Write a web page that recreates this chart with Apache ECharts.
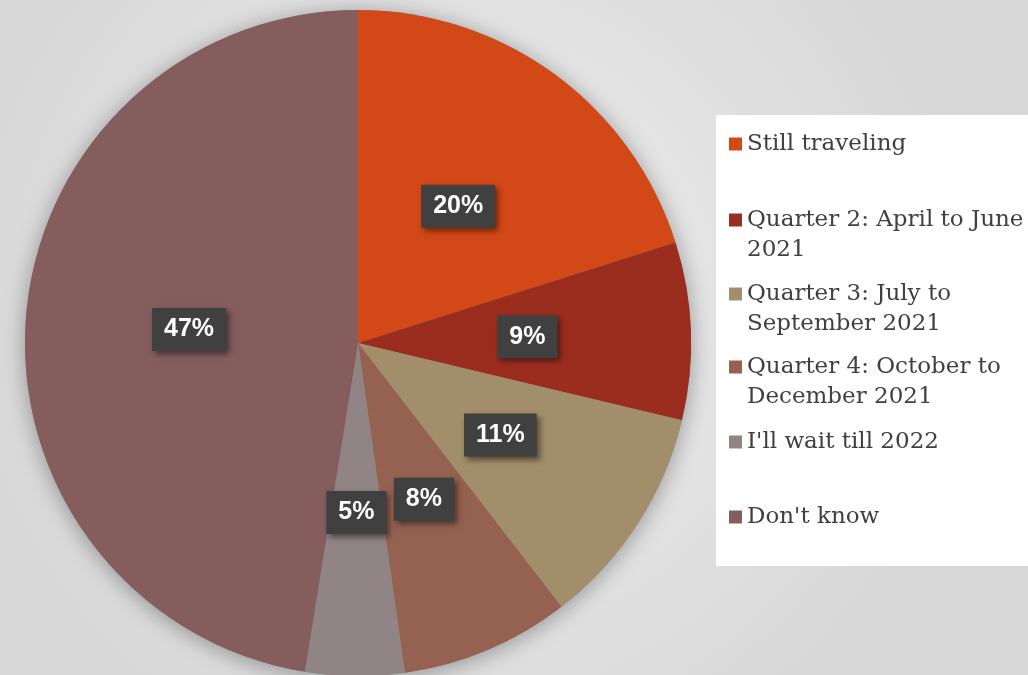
<!DOCTYPE html>
<html>
<head>
<meta charset="utf-8">
<script src="https://cdn.jsdelivr.net/npm/echarts@6/dist/echarts.min.js"></script>
<style>
  html, body { margin: 0; padding: 0; }
  #main { width: 1028px; height: 675px; }
</style>
</head>
<body>
<div id="main"></div>
<script>
const categories = [
  'Still traveling',
  'Quarter 2: April to June\n2021',
  'Quarter 3: July to\nSeptember 2021',
  'Quarter 4: October to\nDecember 2021',
  "I'll wait till 2022",
  "Don't know"
]
// shares (labels show them rounded)
const values = [20.1, 8.6, 10.8, 8.2, 4.8, 47.4]
const colors = ['#d34817', '#9b2d1f', '#a28e6a', '#956251', '#918485', '#855d5d']
// y of each legend entry's first line
const legendRows = [142, 218, 292, 365, 440, 515]

const chart = echarts.init(document.getElementById('main'))

const legends = categories.map((name, i) => {
  const twoLines = name.indexOf('\n') > -1
  return {
    orient: 'vertical',
    left: 724,
    top: legendRows[i] - (twoLines ? 48 : 18),
    itemWidth: 13,
    itemHeight: 13,
    itemGap: 0,
    icon: 'rect',
    selectedMode: false,
    data: [name],
    // empty first line keeps the square next to the first text line
    formatter: n => (n.indexOf('\n') > -1 ? '\n' + n : n),
    textStyle: {
      fontFamily: 'DejaVu Serif',
      fontSize: 23,
      color: '#404040',
      lineHeight: 30
    }
  }
})

const option = {
  backgroundColor: {
    type: 'radial', x: 0.45, y: 0.45, r: 0.75,
    colorStops: [
      { offset: 0, color: '#efefef' },
      { offset: 1, color: '#d8d8d8' }
    ]
  },
  color: colors,
  graphic: [
    {
      type: 'rect',
      z: 0,
      shape: { x: 716, y: 115, width: 320, height: 451 },
      style: { fill: '#ffffff' }
    }
  ],
  legend: legends,
  series: [
    {
      // shadow behind pie
      type: 'pie',
      silent: true,
      z: 1,
      center: [358, 343],
      radius: 333,
      label: { show: false },
      itemStyle: {
        color: '#888',
        shadowColor: 'rgba(0,0,0,0.35)',
        shadowBlur: 22,
        shadowOffsetX: 0,
        shadowOffsetY: 3
      },
      data: [{ value: 1, name: '_bg' }]
    },
    {
      type: 'pie',
      z: 2,
      center: [358, 343],
      radius: 333,
      startAngle: 90,
      clockwise: true,
      avoidLabelOverlap: false,
      emphasis: { disabled: true },
      itemStyle: { borderWidth: 0 },
      label: {
        show: true,
        position: 'inside',
        formatter: p => Math.round(p.value) + '%',
        color: '#ffffff',
        fontFamily: 'Liberation Sans',
        fontWeight: 'bold',
        fontSize: 25,
        backgroundColor: '#404040',
        padding: [10, 12, 8, 12],
        shadowColor: 'rgba(0,0,0,0.5)',
        shadowBlur: 6,
        shadowOffsetX: 3,
        shadowOffsetY: 3
      },
      labelLine: { show: false },
      data: categories.map((name, i) => ({ name: name, value: values[i] }))
    }
  ]
}

chart.setOption(option)
</script>
</body>
</html>
